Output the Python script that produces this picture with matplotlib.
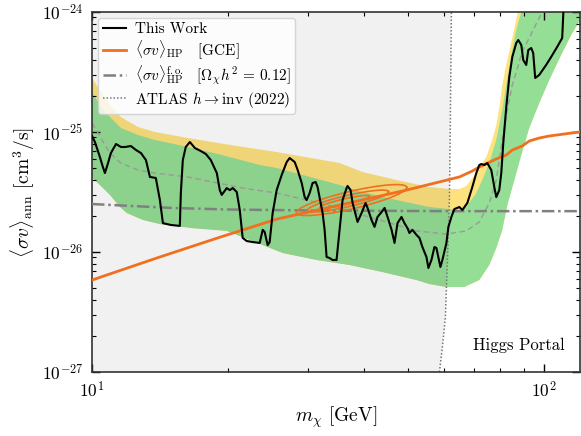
import numpy as np
import matplotlib
matplotlib.use("Agg")
import matplotlib.pyplot as plt
from matplotlib.ticker import LogLocator, NullFormatter, FixedLocator, LogFormatterSciNotation
from matplotlib.lines import Line2D

plt.rcParams['font.family'] = 'serif'
plt.rcParams['font.serif'] = ['cmr10']
plt.rcParams['mathtext.fontset'] = 'cm'
plt.rcParams['axes.formatter.use_mathtext'] = True
plt.rcParams['axes.unicode_minus'] = False

UNIT = 1e-26  # y values below are in units of 1e-26 cm^3/s

# ---- This Work (black) ----
work_m = [10.0, 10.15, 10.41, 10.57, 10.68, 10.85, 11.01, 11.30, 11.59, 11.83, 12.19, 12.51, 12.83, 13.16,
          13.43, 13.84, 14.13, 14.35, 14.94, 15.64, 15.72, 15.88, 16.12, 16.46, 16.88, 17.40, 17.85, 18.31,
          18.88, 19.17, 19.36, 19.86, 20.17, 20.48, 20.90, 21.22, 21.54, 21.98, 22.67, 23.49, 23.85, 24.09,
          24.46, 24.71, 25.09, 25.61, 26.27, 26.95, 27.36, 28.07, 28.50, 29.09, 29.53, 29.83, 30.29, 30.75,
          31.23, 31.54, 32.36, 32.69, 33.02, 33.53, 34.04, 34.74, 35.28, 35.82, 36.56, 36.74, 37.31, 37.70,
          38.46, 38.66, 39.45, 40.27, 40.68, 41.51, 42.15, 42.80, 43.68, 44.36, 45.04, 45.97, 46.67, 47.38,
          48.35, 49.09, 49.85, 50.35, 51.12, 52.17, 52.98, 53.79, 54.90, 55.46, 56.31, 57.18, 57.76, 58.95,
          59.55, 60.78, 61.40, 62.34, 63.30, 64.93, 65.92, 67.61, 69.35, 70.77, 71.86, 72.59, 73.71, 74.84,
          76.38, 77.56, 78.35, 79.55, 80.37, 81.19, 82.45, 83.71, 85.01, 86.75, 87.64, 88.99, 89.89, 91.27,
          92.21, 93.61, 94.56, 95.52, 97.50, 101.0, 103.6, 106.8, 109.6, 110.7]
work_y = [9.26, 8.25, 6.19, 5.11, 4.55, 5.51, 6.68, 7.94, 7.50, 7.50, 7.64, 7.08, 6.68, 5.84,
          4.22, 4.14, 2.71, 1.74, 1.68, 1.65, 3.10, 5.84, 7.50, 8.25, 7.36, 6.94, 6.56, 5.84,
          4.55, 3.28, 2.99, 3.41, 3.28, 3.41, 3.16, 2.24, 1.31, 1.235, 1.21, 1.19, 1.53, 1.47,
          1.14, 1.21, 2.11, 3.28, 4.38, 5.62, 6.07, 5.62, 4.82, 3.76, 2.87, 2.71, 3.10, 3.76,
          3.83, 3.48, 2.11, 1.53, 0.909, 0.891, 0.858, 0.858, 1.53, 2.71, 3.41, 3.55, 3.28, 2.56,
          1.92, 1.78, 2.11, 2.56, 2.33, 1.85, 1.62, 1.96, 2.15, 2.33, 1.96, 1.53, 1.19, 1.74,
          1.96, 1.74, 1.58, 1.44, 1.53, 1.39, 1.31, 1.10, 0.909, 0.736, 0.858, 1.10, 1.08, 0.750,
          0.858, 1.19, 1.62, 1.96, 2.28, 2.37, 2.24, 2.56, 3.48, 4.55, 5.31, 5.41, 5.31, 5.51,
          4.82, 3.48, 2.87, 3.28, 4.55, 8.10, 16.2, 28.7, 42.2, 55.2, 58.4, 53.1, 39.8, 36.2,
          48.2, 50.1, 45.5, 28.2, 29.9, 36.2, 42.2, 51.1, 60.7, 138.6]

# ---- expected-limit bands ----
yel_top_m = [10.0, 10.41, 10.96, 11.59, 12.64, 13.77, 16.29, 18.97, 22.33, 25.61, 35.28, 39.65, 47.14,
             55.75, 61.71, 64.93, 67.27, 70.77, 74.47, 76.77, 78.35, 79.55, 80.78, 82.45, 85.01, 87.20,
             88.51, 125.0]
yel_top_y = [28.2, 22.4, 16.8, 13.3, 11.0, 10.0, 8.91, 8.10, 7.36, 6.81, 5.51, 4.64, 3.98,
             3.48, 3.35, 3.35, 3.55, 4.55, 6.19, 8.58, 11.4, 15.8, 24.6, 36.2, 60.7, 94.4,
             114.0, 300.0]

grn_top_m = [10.0, 10.68, 11.59, 12.64, 13.77, 16.29, 18.97, 23.49, 25.61, 35.28, 39.65, 43.23, 47.14,
             55.75, 61.71, 64.93, 67.27, 70.77, 72.96, 75.6, 78.35, 80.78, 82.45, 84.57, 86.75, 88.99,
             89.89, 125.0]
grn_top_y = [21.1, 14.7, 10.8, 9.44, 8.58, 7.50, 6.56, 5.31, 5.01, 3.62, 3.16, 2.93, 2.71,
             2.37, 2.28, 2.24, 2.37, 3.10, 3.98, 5.51, 8.58, 15.3, 24.6, 43.8, 70.8, 100.0,
             114.0, 300.0]

grn_bot_m = [10.0, 10.41, 10.96, 11.53, 11.95, 12.96, 14.13, 16.71, 19.86, 22.33, 26.41, 31.39, 37.12,
             43.89, 52.17, 55.75, 60.78, 64.93, 66.58, 71.86, 75.6, 78.35, 80.78, 82.88, 85.89, 88.99,
             92.66, 97.5, 102.6, 109.0, 114.7, 120.1]
grn_bot_y = [4.14, 3.62, 2.99, 2.37, 2.11, 1.85, 1.71, 1.58, 1.50, 1.26, 0.981, 0.858, 0.779,
             0.681, 0.584, 0.541, 0.511, 0.511, 0.511, 0.584, 0.779, 1.08, 1.53, 2.46, 3.98, 6.43,
             10.8, 17.4, 27.1, 43.8, 64.3, 85.8]

med_m = [10.0, 10.31, 10.85, 11.24, 11.59, 12.64, 13.77, 16.29, 18.97, 21.54, 25.61, 29.83, 35.28,
         39.65, 47.14, 52.17, 60.78, 67.27, 71.86, 75.6, 78.35, 80.78, 82.88, 85.01, 89.4, 95.0,
         99.0, 101.0]
med_y = [11.9, 9.81, 7.08, 6.07, 5.51, 4.82, 4.55, 4.22, 3.76, 3.41, 3.10, 2.71, 2.33,
         2.03, 1.68, 1.50, 1.41, 1.50, 1.78, 2.56, 3.98, 8.58, 15.3, 24.6, 46.4, 73.6,
         100.0, 114.0]

# ---- Higgs portal GCE curve (orange) ----
hp_m = [10.0, 14.13, 18.97, 25.61, 35.28, 49.6, 64.93, 69.35, 71.86, 78.35, 82.45, 85.01, 89.4,
        92.66, 97.5, 102.6, 110.7, 119.5]
hp_y = [0.584, 0.909, 1.31, 1.88, 2.46, 3.28, 4.22, 4.73, 5.11, 5.96, 6.43, 7.08, 7.64,
        8.41, 8.91, 9.26, 9.62, 10.0]

# ---- freeze-out curve (dash-dot) ----
fo_m = [10.0, 15.0, 20.0, 30.0, 60.0, 120.0]
fo_y = [2.51, 2.33, 2.26, 2.22, 2.19, 2.19]

# ---- ATLAS h -> inv (2022) ----
atlas_m = [58.66, 59.55, 60.47, 61.09, 61.71, 62.02, 62.34, 62.45]
atlas_y = [0.1, 0.162, 0.287, 0.858, 2.71, 12.6, 100.0, 1000.0]

# ---- GCE contours (log-space sheared ellipses) ----
cont_cm = [37.5, 36.8, 36.2]          # centre mass [GeV]
cont_cy = [2.71, 2.66, 2.62]          # centre <sv> [1e-26]
cont_A = [0.122, 0.090, 0.055]        # half-length along log10 m
cont_B = [0.075, 0.048, 0.025]        # half-thickness in log10 <sv>
cont_slope = 0.86

x_ticks = [10, 100]
y_ticks = [1e-27, 1e-26, 1e-25, 1e-24]

ORANGE = '#f07020'
DASHDOT = (0, (5, 1.5, 1, 1.5))
DOTTED = (0, (1, 1.3))

# ================= plotting =================
fig = plt.figure(figsize=(5.81, 4.36), dpi=100)
ax = fig.add_axes([92/581, 64/436, 488/581, 360/436])
ax.set_xscale('log')
ax.set_yscale('log')
ax.set_xlim(10, 120)
ax.set_ylim(1e-27, 1e-24)

u = UNIT
ax.fill(np.concatenate([yel_top_m, grn_bot_m[::-1]]),
        np.concatenate([np.array(yel_top_y), np.array(grn_bot_y[::-1])]) * u,
        color='#fde27e', lw=0, zorder=1)
ax.fill(np.concatenate([grn_top_m, grn_bot_m[::-1]]),
        np.concatenate([np.array(grn_top_y), np.array(grn_bot_y[::-1])]) * u,
        color='#95de95', lw=0, zorder=1.1)

ay = np.array(atlas_y) * u
ax.fill_betweenx(ay, 1.0, atlas_m, color='k', alpha=0.055, lw=0, zorder=1.5)
ax.plot(atlas_m, ay, color='#777777', lw=1.1, ls=DOTTED, zorder=2)

ax.plot(med_m, np.array(med_y) * u, color='#9a9a9a', lw=1.0, ls=(0, (4, 2.5)), zorder=2)
ax.plot(fo_m, np.array(fo_y) * u, color='#808080', lw=1.8, ls=DASHDOT, zorder=3)

t = np.linspace(0, 2 * np.pi, 300)
for cm, cy, A, B in zip(cont_cm, cont_cy, cont_A, cont_B):
    lx = np.log10(cm) + A * np.cos(t)
    ly = np.log10(cy * u) + cont_slope * A * np.cos(t) + B * np.sin(t)
    ax.plot(10 ** lx, 10 ** ly, color=ORANGE, lw=1.2, zorder=3.5)

ax.plot(hp_m, np.array(hp_y) * u, color=ORANGE, lw=2.0, zorder=4)
ax.plot(work_m, np.array(work_y) * u, color='black', lw=1.5, zorder=5)

handles = [
    Line2D([], [], color='black', lw=1.5),
    Line2D([], [], color=ORANGE, lw=2.0),
    Line2D([], [], color='#808080', lw=1.8, ls=DASHDOT),
    Line2D([], [], color='#777777', lw=1.1, ls=DOTTED),
]
labels = [
    'This Work',
    r'$\langle\sigma v\rangle_{\rm HP}\;\;\;\;$' + '[GCE]',
    r'$\langle\sigma v\rangle_{\rm HP}^{\rm f.o.}\;\;\;[\Omega_\chi h^2\,{=}\,0.12]$',
    r'ATLAS $h\to{\rm inv}$ (2022)',
]
leg = ax.legend(handles, labels, loc='upper left', fontsize=11, frameon=True,
                borderaxespad=0.4, borderpad=0.3, handlelength=1.5, handletextpad=0.6,
                labelspacing=0.15)
leg.get_frame().set_edgecolor('#cccccc')
leg.set_zorder(10)

ax.text(0.875, 0.075, 'Higgs Portal', transform=ax.transAxes, ha='center', va='center',
        fontsize=12, zorder=6)

ax.set_xlabel(r'$m_\chi$ [GeV]', fontsize=14, labelpad=3)
ax.set_ylabel(r'$\langle\sigma v\rangle_{\rm ann}$ [cm$^3$/s]', fontsize=14, labelpad=4)

ax.xaxis.set_major_locator(FixedLocator(x_ticks))
ax.xaxis.set_major_formatter(LogFormatterSciNotation())
ax.xaxis.set_minor_locator(LogLocator(base=10, subs=np.arange(2, 10)))
ax.xaxis.set_minor_formatter(NullFormatter())
ax.yaxis.set_major_locator(FixedLocator(y_ticks))
ax.yaxis.set_major_formatter(LogFormatterSciNotation())
ax.yaxis.set_minor_locator(LogLocator(base=10, subs=np.arange(2, 10), numticks=20))
ax.yaxis.set_minor_formatter(NullFormatter())
ax.tick_params(which='both', direction='in', top=True, right=True, labelsize=12.5)
ax.tick_params(which='major', length=6, width=1.0, pad=6)
ax.tick_params(which='minor', length=3, width=0.8)
for s in ax.spines.values():
    s.set_linewidth(1.2)
    s.set_color('#333333')

fig.savefig('out.png', dpi=100)
